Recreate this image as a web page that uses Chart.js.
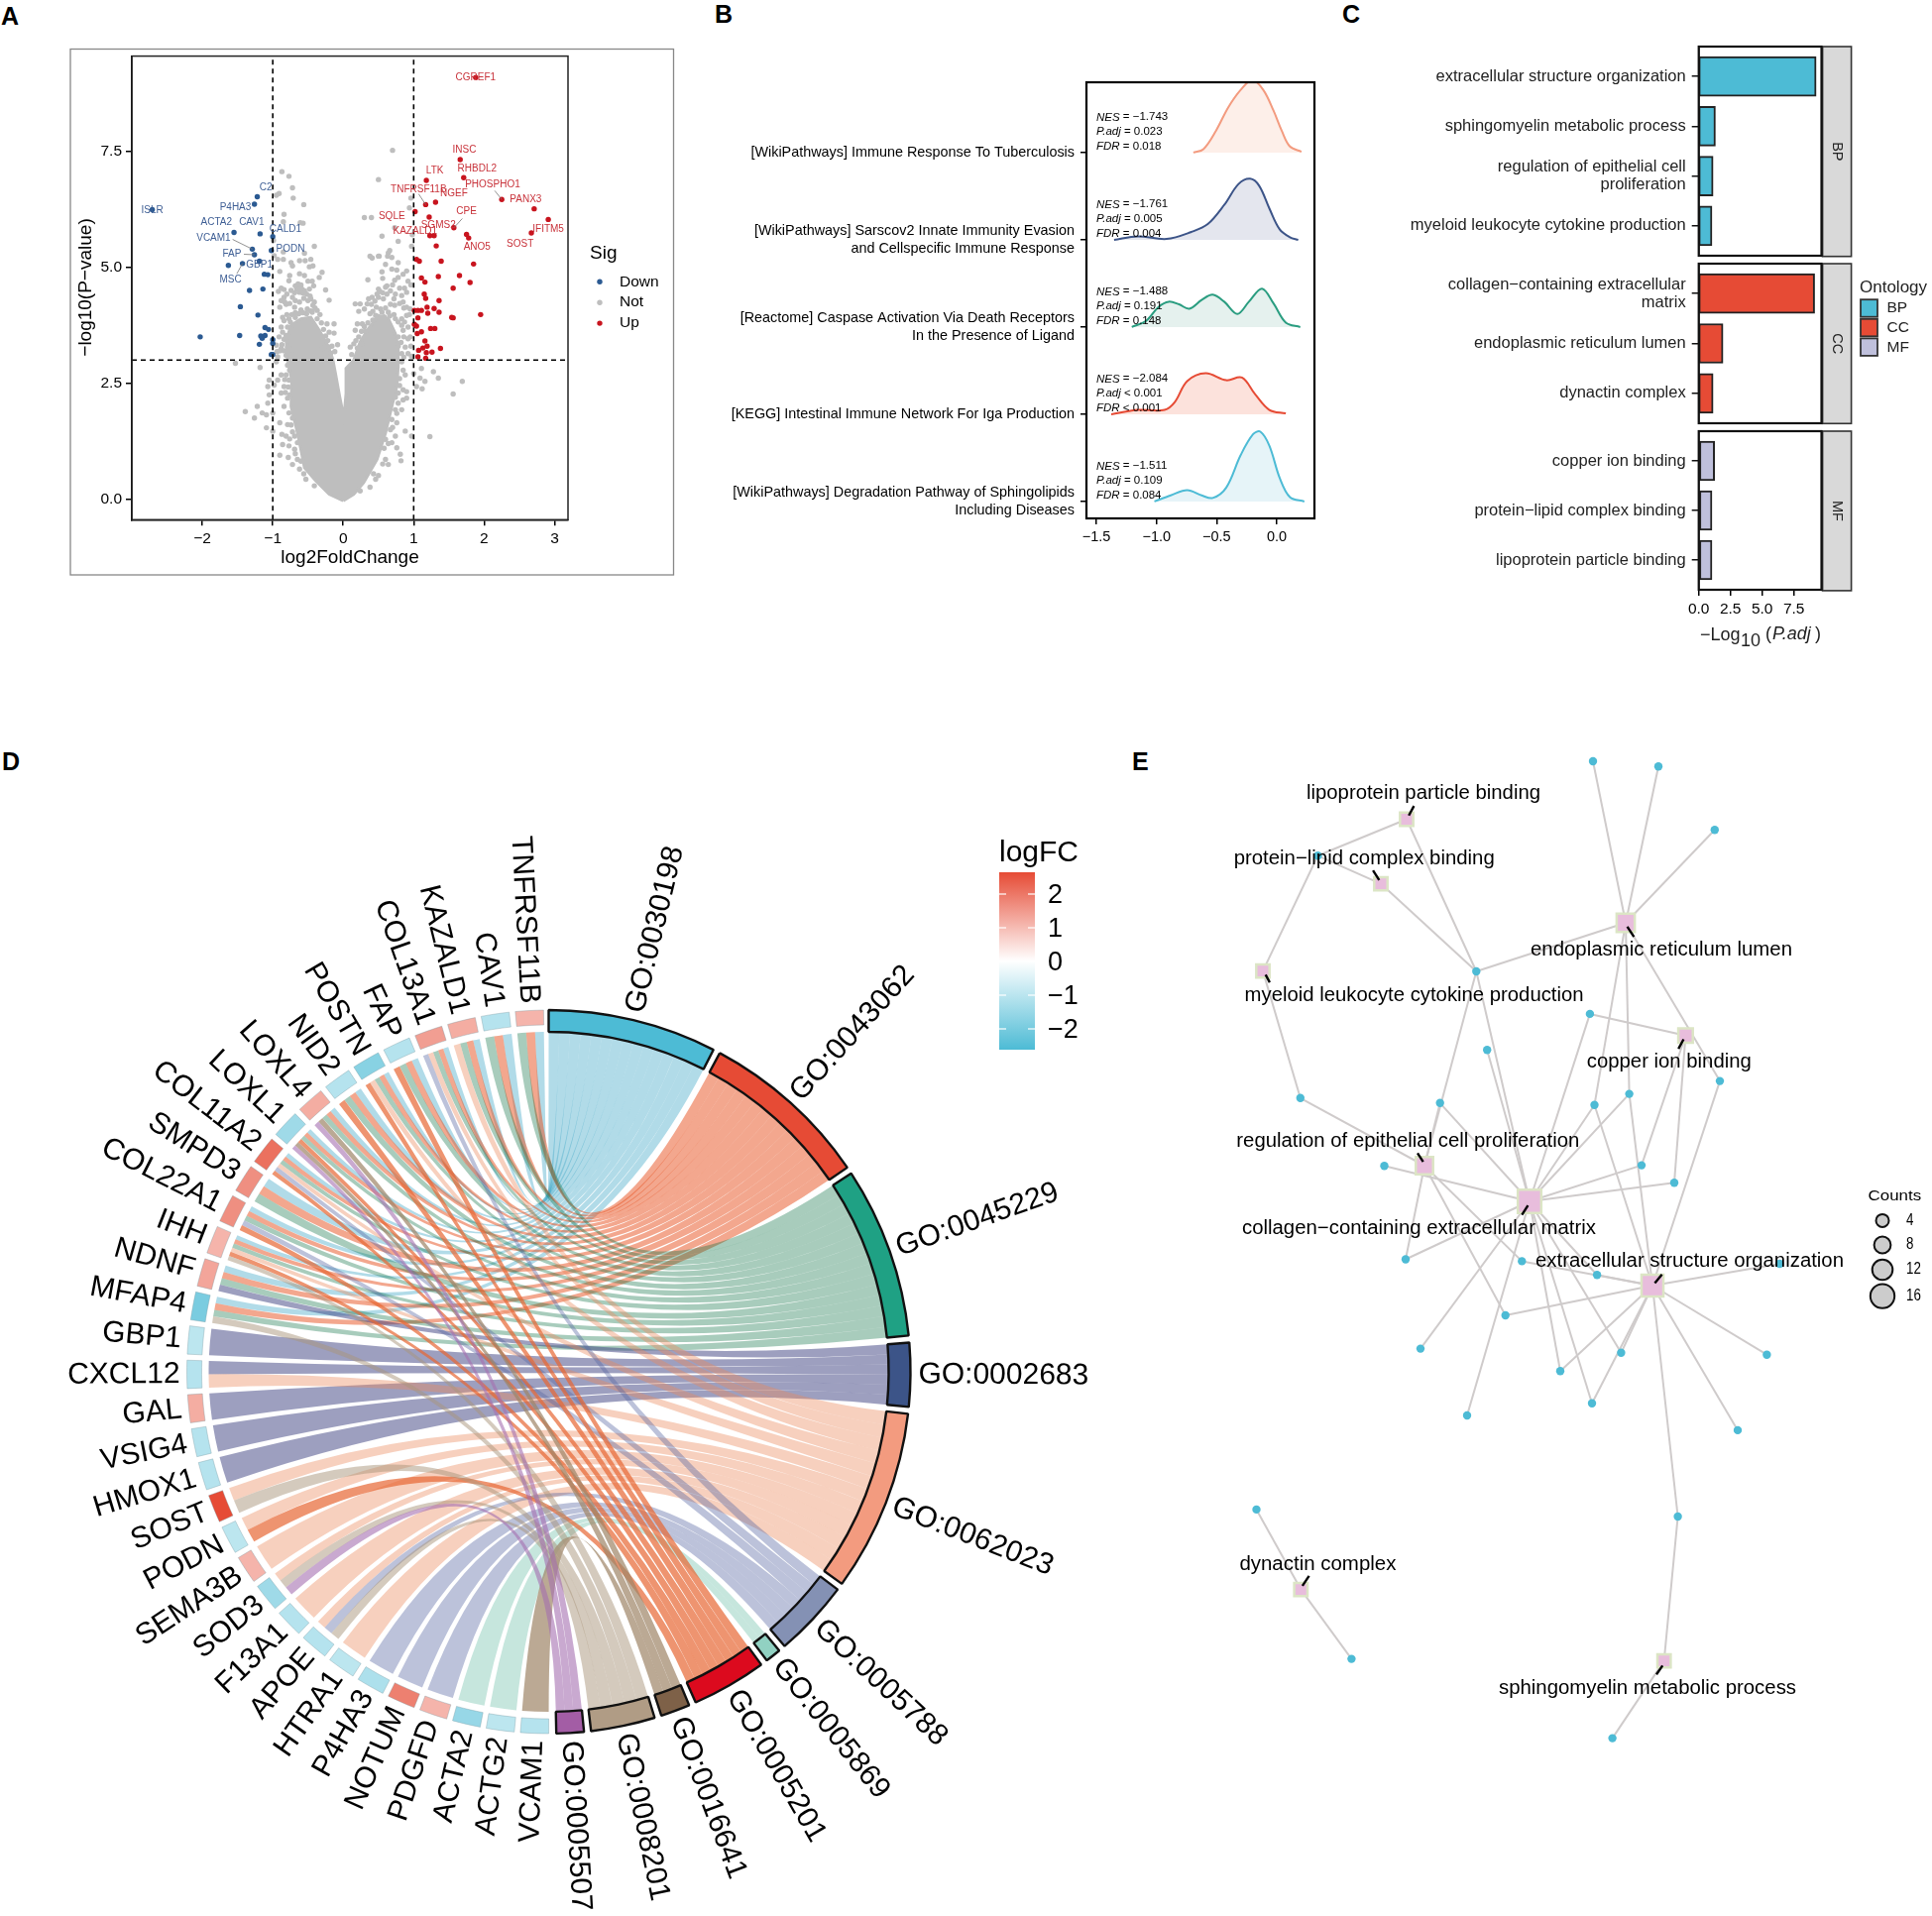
<!DOCTYPE html>
<html>
<head>
<meta charset="utf-8">
<title>Panels A-E</title>
<style>
html, body { margin: 0; background: #fff; overflow: hidden; }
body { width: 1949px; height: 1933px; position: relative; }
canvas { position: absolute; }
.tag { position: absolute; font: bold 25px "Liberation Sans"; line-height: 25px; color: #000; }
</style>
<script src="https://cdn.jsdelivr.net/npm/chart.js@4"></script>
</head>
<body>
<div class="tag" style="left:1px;top:4px">A</div>
<div class="tag" style="left:721px;top:2px">B</div>
<div class="tag" style="left:1354px;top:2px">C</div>
<div class="tag" style="left:2px;top:756px">D</div>
<div class="tag" style="left:1142px;top:756px">E</div>
<script>
// ---------- A: volcano ----------
const volcanoDown = [[-2.71,6.24],[-1.22,6.52],[-1.26,6.36],[-1.55,5.75],[-1.18,5.72],[-1,5.66],[-1.02,5.36],[-1.29,5.39],[-1.26,5.27],[-1.19,5.13],[-1.43,5.08],[-1.63,5.04],[-1.12,4.85],[-1.07,4.84],[-1.33,4.5],[-1.14,4.53],[-1.46,4.15],[-1.21,3.97],[-1.11,3.7],[-1.06,3.66],[-2.03,3.5],[-1.47,3.53],[-1.17,3.52],[-1.11,3.53],[-1.15,3.47],[-1.19,3.34],[-1,3.44],[-1,3.36],[-1.02,3.12],[-1,3.12]];
const volcanoUp = [[1.88,9.09],[1.66,7.32],[1.71,6.93],[1.18,6.87],[2.25,6.46],[1.17,6.35],[1.31,6.4],[1.02,6.2],[2.71,6.26],[1.22,6.08],[2.91,6.03],[1.57,5.85],[2.67,5.74],[1.75,5.71],[1.78,5.63],[1.23,5.68],[1.29,5.68],[1.32,5.46],[1.04,5.17],[1.08,5.13],[1.39,5.13],[1.85,5.07],[1.65,4.82],[1.11,4.77],[1.35,4.8],[1.16,4.68],[1.8,4.67],[1.56,4.55],[1.15,4.42],[1.17,4.33],[1.36,4.28],[1.19,4.14],[1.01,4.07],[1.06,4.07],[1.11,4.07],[1.29,4.11],[1.36,4.03],[1.2,4.01],[1.95,3.98],[1.54,3.92],[1.56,3.91],[1.06,3.91],[1.01,3.77],[1.04,3.73],[1.24,3.68],[1.3,3.68],[1.11,3.61],[1.05,3.57],[1.16,3.41],[1.19,3.3],[1.13,3.26],[1.07,3.21],[1.38,3.25],[1.18,3.16],[1.26,3.17],[1.06,3.07],[1.17,3.04]];
const volcanoNot = [[-.87,7.06],[-.77,6.96],[-.72,6.71],[-.91,6.59],[-.95,6.55],[-.71,6.49],[-.56,6.35],[-.84,6.14],[-.85,5.98],[-.61,5.96],[-.57,5.95],[-.99,5.58],[-.41,5.45],[-.85,5.33],[-.98,5.25],[-.55,5.3],
[-.93,5.17],[-.85,5.17],[-.74,5.1],[-.62,5.14],[-.54,5.14],[-.46,5.17],[-.48,5.01],[-.43,5.03],[-.72,5.03],[-.9,4.91],[-.3,4.89],[-.34,4.78],[-.77,4.71],[-.65,4.6],[-.6,4.57],[-.55,4.49],[-.62,4.46],[-.66,4.53],[-.88,4.55],[-.48,4.53],[-.25,4.51],[-.84,4.35],[-.72,4.35],[-.46,4.32],[-.41,4.25],[-.2,4.29],[-.9,4.14],[-.81,4.2],[-.69,4.14],[-.6,4.08],[-.51,4.1],[-.44,4.03],[-.37,4.07],[-.86,3.92],[-.77,3.89],[-.37,3.89],[-.23,3.78],[-.13,3.78],[-.88,3.71],[-.79,3.71],[-.72,3.64],[-.2,3.6],[-.13,3.58],[-.91,3.5],[-.81,3.53],[-.3,3.5],[-.95,3.32],[-.88,3.25],[-.79,3.28],[-.08,3.33],[-.2,3.28],[-.81,3.1],[-.93,3.07],[-.77,3.5],[-.74,3.35],[-.3,3.25],
[-.68,4.6],[-.64,4.64],[-.6,4.62],[-.58,4.52],[-.63,4.52],[-.57,4.44],[-.52,4.42],[-.47,4.38],[-.5,4.28],[-.43,4.18],[-.4,4.12],[-.46,4.06],[-.52,4],[-.57,4.02],[-.63,4],[-.68,4.02],[-.73,3.98],[-.8,3.98],[-.84,3.85],[-.75,3.82],[-.68,3.92],[-.33,3.98],[-.31,3.8],[-.28,3.66],[-.25,3.52],[-.22,3.42],[-.86,3.6],[-.84,3.45],[-.87,3.33],[-.84,3.2],[-.78,3.15],[-.72,3.22],[-.9,3.2],[-.94,3.18],[-.16,3.3],[-.12,3.18],[-.18,3.15],[-.88,4.28],[-.83,4.25],[-.76,4.22],[-.68,4.28],[-.62,4.25],[-.56,4.33],[-.92,4.48],[-.84,4.52],[-.8,4.42],[-.74,4.5],[-.69,4.45],[-.76,4.82],[-.62,4.86],[-.55,4.82],[-.5,4.7],[-.44,4.7],[-.42,4.6],
[-.95,2.96],[-.79,2.89],[-.88,2.68],[-.93,2.57],[-.81,2.68],[-.98,2.46],[-.84,2.43],[-.77,2.57],[-.88,2.29],[-.79,2.18],[-.84,2],[-.77,1.86],[-1.07,2.07],[-1,1.86],[-1.09,1.82],[-1.15,1.86],[-1.39,1.89],[-1.22,2],[-1.26,1.75],[-1.09,1.54],[-1,1.47],[-.9,1.65],[-.79,1.61],[-.87,1.4],[-.81,1.36],[-.69,1.36],[-.86,1.18],[-.77,1.15],[-.69,1.08],[-.9,.95],[-.78,.9],[-.65,.86],[-.72,.75],[-.62,.65],[-.53,.43],[-.41,.29],[-1.05,2.57],[-1.07,2.43],[-1.05,2.25],[-1.53,2.93],[-1.18,2.84],[-.76,2.78],[-.83,2.58],[-.78,2.42],[-.82,2.3],[-.76,2.25],[-.72,1.75],[-.74,1.6],[-.72,1.45],[-.76,1.3],[-.65,1.22],[-.68,.98],[-.6,.82],[-.56,.55],
[.7,7.52],[.5,6.89],[.94,6.28],[.96,6.49],[.3,6.07],[.4,6.07],[.73,5.85],[.55,5.67],[.78,5.56],[.98,5.7],[.97,5.45],[.66,5.36],[.63,5.24],[.41,5.2],[.5,5.24],
[.35,4.73],[.56,4.76],[.73,4.72],[.69,4.96],[.76,4.94],[.85,4.85],[.9,4.92],[.78,5.1],[.6,5.06],[.38,5.24],[.51,5.24],[.64,5.31],[.69,5.21],[.5,4.53],[.6,4.57],[.67,4.49],[.48,4.42],[.41,4.35],[.36,4.32],[.5,4.35],[.74,4.42],[.83,4.39],[.9,4.46],[.34,4.21],[.24,4.21],[.17,4.21],[.85,4.25],[.9,4.14],[.38,4],[.46,3.96],[.55,4.03],[.64,4.03],[.74,3.89],[.83,3.89],[.9,3.96],[.83,3.75],[.2,3.78],[.27,3.78],[.17,3.64],[.22,3.5],[.15,3.35],[.1,3.28],[.78,3.5],[.85,3.64],[.92,3.71],[.92,3.46],[.88,3.28],[.92,3.14],[.83,3.14],
[.52,4.48],[.56,4.45],[.62,4.42],[.57,4.32],[.45,4.27],[.4,4.2],[.47,4.14],[.53,4.1],[.6,4.12],[.67,4.2],[.73,4.18],[.8,4.22],[.86,4.12],[.95,4.1],[.94,3.98],[.87,3.82],[.78,3.82],[.72,3.98],[.66,3.95],[.58,3.93],[.42,3.86],[.35,3.8],[.3,3.72],[.26,3.62],[.32,3.62],[.86,3.5],[.82,3.38],[.95,3.5],[.96,3.3],[.78,3.3],[.86,3.06],[.97,3.08],[.18,3.42],[.2,3.26],[.12,3.12],[.26,3.35],[.42,4.05],[.3,4.1],[.22,4.05],[.72,4.32],[.62,4.6],[.7,4.62],[.8,4.55],[.87,4.55],[.78,4.78],[.55,4.9],[.92,4.7],[.96,4.62],
[.83,2.96],[.85,2.78],[.88,2.68],[1.11,2.82],[1.16,2.54],[1.09,2.61],[1.28,2.75],[1.35,2.61],[1.69,2.54],[1.56,2.27],[1,2.71],[1.04,2.43],[1.12,2.38],[.85,2.36],[.9,2.32],[.78,2.29],[.85,2.14],[.9,2.18],[.78,2.07],[.74,1.93],[.83,1.93],[.69,1.72],[.76,1.65],[.67,1.5],[.74,1.36],[.88,1.47],[.97,1.36],[1.23,1.35],[.6,1.29],[.69,1.22],[.76,1.11],[.6,.86],[.81,.97],[.82,.83],[.5,.51],[.46,.43],[.64,.75],[.38,.26],[.24,.18],[.8,2.6],[.8,2.45],[.74,2.2],[.76,1.85],[.7,1.55],[.64,1.2],[.58,1.1],[.56,.76],[.43,.55]];
// the solid grey V, too dense to read point by point, traced as an outline
const volcanoCore = [[0,-.03],[-.2,.11],[-.39,.4],[-.55,.68],[-.6,1.07],[-.66,1.5],[-.74,2],[-.73,2.57],[-.79,3],[-.81,3.43],[-.74,3.75],[-.6,3.89],[-.46,3.92],[-.34,3.64],[-.22,3.32],[-.15,3.03],[-.11,2.71],[-.05,2.21],[.01,1.75],[.04,2.28],[.04,2.82],[.15,3],[.24,3.39],[.36,3.68],[.5,3.96],[.64,3.89],[.74,3.57],[.78,3.28],[.78,2.85],[.76,2.43],[.69,2],[.6,1.43],[.48,.86],[.29,.36],[.15,.11],[0,-.03]];
const volcanoXTicks = [-2, -1, 0, 1, 2, 3];
const volcanoYTicks = [0, 2.5, 5, 7.5];
const fcCutoffs = [-1, 1];
const pCutoff = 3;
const upLabels = [["CGREF1",1.88,9.09],["INSC",1.72,7.52],["RHBDL2",1.9,7.12],["LTK",1.3,7.07],["PHOSPHO1",2.12,6.79],["TNFRSF11B",1.07,6.67],["NGEF",1.57,6.59],["PANX3",2.59,6.45],["CPE",1.75,6.2],["SQLE",.69,6.1],["SGMS2",1.35,5.9],["IFITM5",2.91,5.83],["KAZALD1",1.02,5.77],["SOST",2.51,5.5],["ANO5",1.9,5.43]];
const downLabels = [["ISLR",-2.71,6.23],["C2",-1.1,6.71],["P4HA3",-1.53,6.3],["ACTA2",-1.8,5.96],["CAV1",-1.3,5.96],["CALD1",-.82,5.81],["VCAM1",-1.84,5.63],["PODN",-.75,5.4],["FAP",-1.58,5.28],["GBP1",-1.19,5.05],["MSC",-1.6,4.73]];
const labelLeaders = [[-1.57,5.6,-1.29,5.39],[-1.41,5.28,-1.26,5.27],[-1.51,4.86,-1.43,5.08],[1.07,6.58,1.17,6.35],[1.69,6.05,1.57,5.85],[2.15,6.65,2.25,6.46]];

// ---------- B: ridges ----------
const pathwayLabels = ["[WikiPathways] Immune Response To Tuberculosis",["[WikiPathways] Sarscov2 Innate Immunity Evasion","and Cellspecific Immune Response"],["[Reactome] Caspase Activation Via Death Receptors","In the Presence of Ligand"],"[KEGG] Intestinal Immune Network For Iga Production",["[WikiPathways] Degradation Pathway of Sphingolipids","Including Diseases"]];
const ridge1X = [-.694,-.61,-.506,-.403,-.3,-.205,-.113,-.027,.041,.109,.205];
const ridge1H = [0,.04,.25,.52,.72,.83,.72,.48,.25,.07,.01];
const ridge2X = [-1.353,-1.155,-.916,-.71,-.574,-.437,-.318,-.222,-.147,-.062,.024,.109,.178];
const ridge2H = [0,.04,.01,.09,.18,.4,.64,.7,.62,.36,.12,.03,0];
const ridge3X = [-1.206,-1.087,-.984,-.899,-.813,-.728,-.625,-.533,-.437,-.328,-.232,-.123,-.027,.075,.195];
const ridge3H = [0,.07,.23,.29,.26,.21,.31,.37,.29,.15,.29,.44,.27,.05,0];
const ridge4X = [-1.377,-1.155,-.933,-.848,-.745,-.591,-.42,-.29,-.181,-.062,.075];
const ridge4H = [0,.05,.05,.14,.38,.47,.39,.42,.23,.05,.01];
const ridge5X = [-1.018,-.882,-.745,-.625,-.533,-.42,-.301,-.198,-.137,-.062,.024,.109,.229];
const ridge5H = [0,.07,.13,.07,.04,.16,.53,.77,.8,.64,.27,.05,0];
const statNes = ["= −1.743","= −1.761","= −1.488","= −2.084","= −1.511"];
const statPadj = ["= 0.023","= 0.005","= 0.191","< 0.001","= 0.109"];
const statFdr = ["= 0.018","= 0.004","= 0.148","< 0.001","= 0.084"];
const nesTicks = [-1.5, -1, -.5, 0];

// ---------- C: enrichment bars ----------
const bpTerms = ["extracellular structure organization","sphingomyelin metabolic process",["regulation of epithelial cell","proliferation"],"myeloid leukocyte cytokine production"];
const bpValues = [9.25, 1.31, 1.13, 1.04];
const ccTerms = [["collagen−containing extracellular","matrix"],"endoplasmic reticulum lumen","dynactin complex"];
const ccValues = [9.13, 1.91, 1.13];
const mfTerms = ["copper ion binding","protein−lipid complex binding","lipoprotein particle binding"];
const mfValues = [1.25, 1.04, 1.04];
const padjTicks = [0, 2.5, 5, 7.5];

// ---------- D: chord ----------
const goIds = ["GO:0030198","GO:0043062","GO:0045229","GO:0002683","GO:0062023","GO:0005788","GO:0005869","GO:0005201","GO:0016641","GO:0008201","GO:0005507"];
const goSizes = [27.1,27.4,27.5,10.2,29.2,12.3,2.5,12,4.7,10.3,4.4];
const genes = ["TNFRSF11B","CAV1","KAZALD1","COL13A1","FAP","POSTN","NID2","LOXL4","LOXL1","COL11A2","SMPD3","COL22A1","IHH","NDNF","MFAP4","GBP1","CXCL12","GAL","VSIG4","HMOX1","SOST","PODN","SEMA3B","SOD3","F13A1","APOE","HTRA1","P4HA3","NOTUM","PDGFD","ACTA2","ACTG2","VCAM1"];
const geneLogFC = [1,-1,1.1,1.3,-1,-1.6,-1,1.1,-1.3,1.9,1.5,1.5,1,1.2,-1.8,-.9,-1,1.1,-1,-1,2.4,-.9,1,-1.3,-1,-1,-.9,-1.1,1.7,1,-1.4,-.9,-1];
const geneTerms = [[0,1,2],[0,1,2],[0,1,2,4],[0,1,2,4,5],[0,1,2,7],[0,1,2,4,7],[0,1,2,7],[0,1,2,8,10],[0,1,2,7,8,10],[0,1,2,4,5,7],[0,1,2],[0,1,2,5,7],[0,1,2,4,7,9],[0,1,2,3],[0,1,2,9],[3],[3,4],[3],[3],[3],[4,9],[4,7],[4],[4,9,10],[4],[4,5,9],[4],[5],[5],[5],[6],[6],[8]];
const logfcTicks = [2, 1, 0, -1, -2];

// ---------- E: network ----------
const hubNames = ["lipoprotein particle binding","protein−lipid complex binding","myeloid leukocyte cytokine production","endoplasmic reticulum lumen","copper ion binding","regulation of epithelial cell proliferation","collagen−containing extracellular matrix","extracellular structure organization","dynactin complex","sphingomyelin metabolic process"];
const hubX = [1419,1393,1274,1640,1700.4,1437,1543,1667,1312.3,1678.7];
const hubY = [826.5,891.6,979.6,931,1044.7,1176,1212,1297,1603.6,1675.6];
const hubCounts = [2,2,2,7,3,6,16,13,2,2];
const nodeX = [1607,1673,1729.8,1329.4,1489.3,1603.9,1500.2,1735,1311.8,1452.7,1608.5,1643.6,1656,1689,1396.5,1418,1535.3,1611.1,1795.3,1518.7,1433,1574,1635.4,1606,1480,1782.4,1753,1692.6,1626.6,1267.5,1363.4];
const nodeY = [768,773.3,837.3,863.3,980,1022.9,1059.2,1090.6,1107.8,1112.8,1114.7,1103.6,1175.6,1193.2,1176.3,1270.5,1272.4,1286.2,1275,1327,1360.6,1383.2,1364.8,1415.7,1428,1366.7,1442.9,1530,1753.6,1522.9,1673.6];
// node numbers (1-based) linked to each hub
const hubLinks = [[4,5],[4,5],[4,9],[1,2,3,5,8,11,12],[6,13,14],[9,10,5,16,17,20],[5,6,7,10,11,12,13,14,15,16,18,21,22,23,24,25],[8,11,12,17,18,19,20,22,23,24,26,27,28],[30,31],[28,29]];
const countLevels = [4, 8, 12, 16];

// ---------- shared helpers ----------
const FONT = '"Liberation Sans"';
Chart.defaults.animation = false;
Chart.defaults.responsive = false;
Chart.defaults.devicePixelRatio = 1;
Chart.defaults.font.family = FONT;
Chart.defaults.color = "#000";
Chart.defaults.layout.autoPadding = false;
Chart.defaults.plugins.legend.display = false;
Chart.defaults.plugins.tooltip.enabled = false;

function place(left, top, w, h) {
  const c = document.createElement("canvas");
  c.width = w; c.height = h;
  c.style.left = left + "px"; c.style.top = top + "px";
  document.body.appendChild(c);
  return c;
}
function put(ctx, s, x, y, o = {}) {
  ctx.save();
  ctx.translate(x, y);
  if (o.rot) ctx.rotate(o.rot * Math.PI / 180);
  ctx.font = `${o.style || ""} ${o.size || 15}px ${FONT}`;
  ctx.textAlign = o.align || "left";
  ctx.textBaseline = o.base || "middle";
  ctx.fillStyle = o.color || "#000";
  if (o.width) ctx.scale(o.width / ctx.measureText(s).width, 1);
  ctx.fillText(s, 0, 0);
  ctx.restore();
}
function pagePlugin(id, left, top, draw) {
  return { id, afterDraw(chart) {
    const ctx = chart.ctx;
    ctx.save(); ctx.translate(-left, -top);
    draw(ctx, chart, left, top);
    ctx.restore();
  } };
}
const minus = v => v < 0 ? "−" + Math.abs(v) : String(v);
function axis(min, max, ticks, fmt, size, fit, extra = {}) {
  return Object.assign({
    type: "linear", min, max,
    afterBuildTicks(s) { s.ticks = ticks.map(v => ({ value: v })); },
    afterFit(s) {
      if (s.isHorizontal()) s.height = fit; else s.width = fit;
      s.paddingTop = s.paddingBottom = s.paddingLeft = s.paddingRight = 0;
    },
    ticks: { callback: fmt, font: { size }, color: "#000", autoSkip: false, maxRotation: 0, padding: 4 },
    grid: { drawOnChartArea: false, tickLength: 6, color: "#000", lineWidth: 1.5 },
    border: { color: "#000", width: 1.5 },
  }, extra);
}
const pts = arr => arr.map(p => ({ x: p[0], y: p[1] }));

// ---------- A ----------
const dash = { showLine: true, borderColor: "#000", borderWidth: 1.6, borderDash: [5, 4], pointRadius: 0, order: 0 };
new Chart(place(60, 40, 640, 560), {
  type: "scatter",
  data: { datasets: [
    { ...dash, data: [{ x: fcCutoffs[0], y: -.44 }, { x: fcCutoffs[0], y: 9.55 }] },
    { ...dash, data: [{ x: fcCutoffs[1], y: -.44 }, { x: fcCutoffs[1], y: 9.55 }] },
    { ...dash, data: [{ x: -3, y: pCutoff }, { x: 3.19, y: pCutoff }] },
    { data: pts(volcanoDown), backgroundColor: "#2B5A92", pointRadius: 2.7, pointBorderWidth: 0, order: 1 },
    { data: pts(volcanoUp), backgroundColor: "#C8141E", pointRadius: 2.7, pointBorderWidth: 0, order: 1 },
    { data: pts(volcanoNot), backgroundColor: "#BEBEBE", pointRadius: 2.7, pointBorderWidth: 0, order: 2 },
    { data: pts(volcanoCore), showLine: true, fill: "shape", backgroundColor: "#BEBEBE", borderColor: "#BEBEBE", borderWidth: 3, pointRadius: 0, order: 3 },
  ] },
  options: {
    layout: { padding: { left: 0, top: 16.6, right: 127, bottom: 0 } },
    scales: {
      x: axis(-3, 3.19, volcanoXTicks, minus, 15.5, 75.7),
      y: axis(-.44, 9.55, volcanoYTicks, v => v.toFixed(1), 15.5, 73),
    },
  },
  plugins: [pagePlugin("volcanoNotes", 60, 40, (ctx, chart) => {
    const { x, y } = chart.scales;
    const a = chart.chartArea;
    ctx.strokeStyle = "#888"; ctx.lineWidth = 1.3;
    ctx.strokeRect(71, 49.5, 608.5, 530.5);
    ctx.strokeStyle = "#222"; ctx.lineWidth = 1.5;
    ctx.strokeRect(a.left + 60, a.top + 40, a.width, a.height);
    ctx.strokeStyle = "#777"; ctx.lineWidth = .8;
    labelLeaders.forEach(l => {
      ctx.beginPath();
      ctx.moveTo(x.getPixelForValue(l[0]) + 60, y.getPixelForValue(l[1]) + 40);
      ctx.lineTo(x.getPixelForValue(l[2]) + 60, y.getPixelForValue(l[3]) + 40);
      ctx.stroke();
    });
    const note = (l, color) => put(ctx, l[0], x.getPixelForValue(l[1]) + 60, y.getPixelForValue(l[2]) + 40, { size: 10, align: "center", color });
    upLabels.forEach(l => note(l, "#C8323A"));
    downLabels.forEach(l => note(l, "#3F5F95"));
    put(ctx, "log2FoldChange", 353, 562.5, { size: 19, align: "center" });
    put(ctx, "−log10(P−value)", 87, 290, { size: 19, align: "center", rot: -90 });
    put(ctx, "Sig", 595, 255.6, { size: 19 });
    [["Down", "#2B5A92"], ["Not", "#BEBEBE"], ["Up", "#C8141E"]].forEach((k, i) => {
      const ky = 284.3 + i * 20.9;
      ctx.fillStyle = k[1];
      ctx.beginPath(); ctx.arc(605, ky, 2.7, 0, 7); ctx.fill();
      put(ctx, k[0], 625, ky, { size: 15.5 });
    });
  })],
});

// ---------- B ----------
const ridgeColors = ["#F39B7F", "#3C5488", "#2A9D80", "#E64B35", "#4DBBD5"];
const ridgeFills = ["#FDEFE9", "#E4E6EE", "#E5F1EE", "#FCE2DC", "#E6F4F8"];
const ridges = [[ridge1X, ridge1H], [ridge2X, ridge2H], [ridge3X, ridge3H], [ridge4X, ridge4H], [ridge5X, ridge5H]];
new Chart(place(720, 70, 620, 480), {
  type: "scatter",
  data: { datasets: ridges.map((r, i) => {
    const base = 5 - i;
    return {
      data: r[0].map((v, j) => ({ x: v, y: base + r[1][j] })),
      showLine: true, tension: .35,
      fill: { value: base },
      borderColor: ridgeColors[i], backgroundColor: ridgeFills[i], borderWidth: 2, pointRadius: 0,
    };
  }) },
  options: {
    layout: { padding: { top: 13, right: 14 } },
    scales: {
      x: axis(-1.583, .313, nesTicks, v => v === 0 ? "0.0" : "−" + Math.abs(v).toFixed(1), 14.5, 27),
      y: axis(.806, 5.806, [1, 2, 3, 4, 5], v => pathwayLabels[5 - v], 14.4, 376, {
        ticks: { callback: v => pathwayLabels[5 - v], font: { size: 14.4 }, color: "#000", autoSkip: false, padding: 6 },
      }),
    },
  },
  plugins: [pagePlugin("ridgeNotes", 720, 70, (ctx, chart) => {
    const a = chart.chartArea;
    ctx.strokeStyle = "#000"; ctx.lineWidth = 2.2;
    ctx.strokeRect(a.left + 720, a.top + 70, a.width, a.height);
    const y = chart.scales.y;
    const stat = (name, val, px, py) => {
      ctx.font = `italic 11.5px ${FONT}`;
      const w = ctx.measureText(name + " ").width;
      put(ctx, name, px, py, { size: 11.5, style: "italic" });
      put(ctx, val, px + w, py, { size: 11.5 });
    };
    statNes.forEach((s, i) => {
      const base = y.getPixelForValue(5 - i) + 70;
      stat("NES", s, 1106, base - 35.6);
      stat("P.adj", statPadj[i], 1106, base - 20.8);
      stat("FDR", statFdr[i], 1106, base - 6.5);
    });
  })],
});

// ---------- C ----------
function facet(terms, values, color, strip, boxTop, boxBottom, showX, notes) {
  const top = boxTop - 4;
  const h = boxBottom - boxTop + 4 + (showX ? 60 : 4);
  const yfmt = v => terms[v - 1];
  const plugin = pagePlugin("facetNotes" + strip, 1350, top, (ctx, chart) => {
    const a = chart.chartArea;
    ctx.fillStyle = "#D9D9D9";
    ctx.fillRect(1838.6, boxTop, 29, boxBottom - boxTop);
    ctx.strokeStyle = "#333"; ctx.lineWidth = 1.6;
    ctx.strokeRect(1838.6, boxTop, 29, boxBottom - boxTop);
    ctx.strokeStyle = "#111"; ctx.lineWidth = 2.2;
    ctx.strokeRect(a.left + 1350, a.top + top, a.width, a.height);
    put(ctx, strip, 1853, (boxTop + boxBottom) / 2, { size: 14.5, rot: 90, align: "center", color: "#222" });
    if (notes) notes(ctx);
  });
  new Chart(place(1350, top, 599, h), {
    type: "bar",
    data: { datasets: [{
      data: values.map((v, i) => ({ x: v, y: i + 1 })),
      backgroundColor: color, borderColor: "#222", borderWidth: 2, borderSkipped: false, barThickness: 40,
    }] },
    options: {
      indexAxis: "y",
      layout: { padding: { top: 4, right: 111.5, bottom: showX ? 0 : 4 } },
      scales: {
        x: axis(0, 9.67, padjTicks, v => v.toFixed(1), 15.5, showX ? 60 : 0, { display: showX }),
        y: axis(.4, terms.length + .6, terms.map((t, i) => i + 1), yfmt, 16.5, 363.7, {
          reverse: true, offset: false,
          ticks: { callback: yfmt, font: { size: 16.5, lineHeight: 1.08 }, color: "#222", autoSkip: false, padding: 6 },
          grid: { drawOnChartArea: false, offset: false, tickLength: 7, color: "#111", lineWidth: 1.5 },
        }),
      },
    },
    plugins: [plugin],
  });
}
const ontologyKeys = [["BP", "#4DBBD5"], ["CC", "#E64B35"], ["MF", "#BFC0DC"]];
facet(bpTerms, bpValues, "#4DBBD5", "BP", 46.8, 258.5, false);
facet(ccTerms, ccValues, "#E64B35", "CC", 266.3, 427.6, false, ctx => {
  put(ctx, "Ontology", 1876, 291, { size: 17, color: "#222" });
  ontologyKeys.forEach((k, i) => {
    const ky = 302.5 + i * 19.6;
    ctx.fillStyle = k[1]; ctx.fillRect(1877, ky, 17, 17.5);
    ctx.strokeStyle = "#333"; ctx.lineWidth = 1.8; ctx.strokeRect(1877, ky, 17, 17.5);
    put(ctx, k[0], 1903.5, ky + 9, { size: 15.5, color: "#222" });
  });
});
facet(mfTerms, mfValues, "#BFC0DC", "MF", 435.4, 596.3, true, ctx => {
  put(ctx, "−Log", 1715, 641, { size: 18, color: "#222" });
  put(ctx, "10", 1756, 647, { size: 18, color: "#222" });
  put(ctx, "(", 1781, 640, { size: 18, color: "#222" });
  put(ctx, "P.adj", 1788, 640, { size: 18, style: "italic", color: "#222" });
  put(ctx, ")", 1831, 640, { size: 18, color: "#222" });
});

// ---------- D ----------
const R_OUT = 365, R_RIBBON = 343, R_GENE = 350;
const GENE_SIZE = 4.5, GENE_GAP = .96, GO_GAP = 1.12;
const goColors = ["#4DBBD5", "#E64B35", "#1FA184", "#3C5488", "#F39B7F", "#8491B4", "#91D1C2", "#DC0A1E", "#7E6148", "#B09C85", "#A35DA5"];
const ribbonColors = ["rgba(70,170,200,.42)", "rgba(232,80,30,.5)", "rgba(6,109,64,.35)", "rgba(59,63,127,.5)", "rgba(235,137,92,.4)", "rgba(87,102,162,.4)", "rgba(112,192,170,.4)", "rgba(231,102,51,.7)", "rgba(158,132,102,.7)", "rgba(169,149,123,.5)", "rgba(165,112,177,.6)"];
function fcColor(v) {
  const t = Math.min(Math.abs(v) / 2.4, 1);
  const c = v > 0 ? [230, 75, 53] : [77, 187, 213];
  const m = c.map(k => Math.round(255 + (k - 255) * t));
  return `rgb(${m[0]},${m[1]},${m[2]})`;
}
const ringSizes = [], ringFill = [], ringBorder = [], ringWidth = [], ringGoIdx = {}, ringGeneIdx = {};
function pushRing(size, fill, border, width) {
  ringSizes.push(size); ringFill.push(fill); ringBorder.push(border); ringWidth.push(width);
}
goSizes.forEach((s, i) => {
  ringGoIdx[i] = ringSizes.length;
  pushRing(s, goColors[i], "#111", 2.4);
  pushRing(i < goSizes.length - 1 ? GO_GAP : 1.2, "rgba(0,0,0,0)", "rgba(0,0,0,0)", 0);
});
for (let g = genes.length - 1; g >= 0; g--) {
  ringGeneIdx[g] = ringSizes.length;
  pushRing(GENE_SIZE, fcColor(geneLogFC[g]), "rgba(120,150,160,.6)", .6);
  pushRing(g > 0 ? GENE_GAP : .8, "rgba(0,0,0,0)", "rgba(0,0,0,0)", 0);
}
const chordLeft = 0, chordTop = 800;
const chordPlugin = {
  id: "chordRibbons",
  afterDatasetsUpdate(chart) {
    const arcs = chart.getDatasetMeta(0).data;
    genes.forEach((g, i) => { arcs[ringGeneIdx[i]].innerRadius = R_GENE; });
  },
  beforeDatasetsDraw(chart) {
    const ctx = chart.ctx;
    const arcs = chart.getDatasetMeta(0).data;
    const cx = arcs[0].x, cy = arcs[0].y;
    const at = a => [cx + R_RIBBON * Math.cos(a), cy + R_RIBBON * Math.sin(a)];
    goIds.forEach((id, go) => {
      const arc = arcs[ringGoIdx[go]];
      const members = genes.map((g, i) => i).filter(i => geneTerms[i].includes(go));
      const span = (arc.endAngle - arc.startAngle) / members.length;
      members.forEach((g, j) => {
        const ga = arcs[ringGeneIdx[g]];
        const w = (ga.endAngle - ga.startAngle) / geneTerms[g].length;
        const k = geneTerms[g].indexOf(go);
        const b0 = ga.endAngle - k * w, b1 = b0 - w;
        const a0 = arc.startAngle + j * span, a1 = a0 + span;
        const pb0 = at(b0), pa0 = at(a0), pb1 = at(b1);
        ctx.beginPath();
        ctx.moveTo(pb0[0], pb0[1]);
        ctx.quadraticCurveTo(cx, cy, pa0[0], pa0[1]);
        ctx.arc(cx, cy, R_RIBBON, a0, a1);
        ctx.quadraticCurveTo(cx, cy, pb1[0], pb1[1]);
        ctx.arc(cx, cy, R_RIBBON, b1, b0);
        ctx.closePath();
        ctx.fillStyle = ribbonColors[go];
        ctx.fill();
      });
    });
  },
  afterDraw(chart) {
    const ctx = chart.ctx;
    const arcs = chart.getDatasetMeta(0).data;
    const cx = arcs[0].x, cy = arcs[0].y;
    const spot = (mid, r) => [cx + r * Math.cos(mid), cy + r * Math.sin(mid)];
    genes.forEach((g, i) => {
      const a = arcs[ringGeneIdx[i]];
      const mid = (a.startAngle + a.endAngle) / 2;
      const p = spot(mid, 372);
      put(ctx, g, p[0], p[1], { size: 30, align: "right", rot: mid * 180 / Math.PI - 180 });
    });
    goIds.forEach((g, i) => {
      const a = arcs[ringGoIdx[i]];
      const mid = (a.startAngle + a.endAngle) / 2;
      const p = spot(mid, 373);
      put(ctx, g, p[0], p[1], { size: 30, rot: mid * 180 / Math.PI });
    });
    // logFC colour bar
    const ox = -chordLeft, oy = -chordTop;
    const grad = ctx.createLinearGradient(0, 880 + oy, 0, 1059 + oy);
    grad.addColorStop(0, "#E64B35"); grad.addColorStop(.5, "#FFFFFF"); grad.addColorStop(1, "#4DBBD5");
    ctx.fillStyle = grad;
    ctx.fillRect(1008 + ox, 880 + oy, 36, 179);
    put(ctx, "logFC", 1008 + ox, 861 + oy, { size: 30 });
    logfcTicks.forEach(v => {
      const ty = 970 + oy - v * 34;
      ctx.fillStyle = "#fff";
      ctx.fillRect(1008 + ox, ty - .6, 7, 1.2);
      ctx.fillRect(1037 + ox, ty - .6, 7, 1.2);
      put(ctx, minus(v), 1057 + ox, ty + 2, { size: 27 });
    });
  },
};
new Chart(place(chordLeft, chordTop, 1150, 1133), {
  type: "doughnut",
  data: { datasets: [{ data: ringSizes, backgroundColor: ringFill, borderColor: ringBorder, borderWidth: ringWidth, borderAlign: "center" }] },
  options: {
    layout: { padding: { top: 35, right: 43 } },
    radius: R_OUT,
    cutout: (R_RIBBON / R_OUT * 100) + "%",
  },
  plugins: [chordPlugin],
});

// ---------- E ----------
const hubLabelBox = [[1318,800.5,236],[1244.7,866.7,263],[1255.6,1004.5,342],[1544,958.6,264],[1600.8,1071.5,166],[1247.3,1151,346],[1253,1239,357],[1549,1272,311],[1250.4,1578,158],[1512,1703.5,300]];
const hubLeaders = [[1426.4,813.1,1421.2,822.7],[1385.1,878.2,1391.3,887.8],[1641.6,934.8,1648.3,945.2],[1276.7,983.4,1280.9,991.1],[1698.4,1048.5,1693.2,1058.1],[1430,1163.4,1435.7,1172.1],[1541.4,1216.1,1535.3,1225.7],[1676.6,1285.8,1669.4,1294.6],[1320.6,1589.8,1313.9,1599.8],[1677.2,1680.4,1671,1689.2]];
new Chart(place(1140, 740, 809, 1060), {
  type: "scatter",
  data: { datasets: [
    { data: hubX.map((v, i) => ({ x: v, y: hubY[i] })), pointStyle: "rect",
      pointRadius: hubCounts.map(c => 5.5 + Math.sqrt(c) * 2.8),
      backgroundColor: "#E8BDDC", borderColor: "#DCE5C5", borderWidth: 2.5 },
    { data: nodeX.map((v, i) => ({ x: v, y: nodeY[i] })), pointRadius: 4.2, pointBorderWidth: 0, backgroundColor: "#4DBBD5" },
  ] },
  options: {
    layout: { padding: 0 },
    scales: {
      x: { type: "linear", display: false, min: 1140, max: 1949 },
      y: { type: "linear", display: false, min: 740, max: 1800, reverse: true },
    },
  },
  plugins: [{
    id: "netEdges",
    beforeDatasetsDraw(chart) {
      const { x, y } = chart.scales;
      const ctx = chart.ctx;
      ctx.strokeStyle = "#CFCBCB"; ctx.lineWidth = 2;
      hubLinks.forEach((links, h) => links.forEach(n => {
        ctx.beginPath();
        ctx.moveTo(x.getPixelForValue(hubX[h]), y.getPixelForValue(hubY[h]));
        ctx.lineTo(x.getPixelForValue(nodeX[n - 1]), y.getPixelForValue(nodeY[n - 1]));
        ctx.stroke();
      }));
    },
  }, pagePlugin("netNotes", 1140, 740, ctx => {
    ctx.strokeStyle = "#000"; ctx.lineWidth = 2.4;
    hubLeaders.forEach(l => { ctx.beginPath(); ctx.moveTo(l[0], l[1]); ctx.lineTo(l[2], l[3]); ctx.stroke(); });
    hubNames.forEach((n, i) => put(ctx, n, hubLabelBox[i][0], hubLabelBox[i][1], { size: 20, width: hubLabelBox[i][2] }));
    put(ctx, "Counts", 1884.6, 1207, { size: 15, width: 53.5 });
    countLevels.forEach((c, i) => {
      const ly = [1231.4, 1256, 1281, 1307.6][i];
      ctx.beginPath(); ctx.arc(1899, ly, 6.5 + i * 1.9, 0, 7);
      ctx.fillStyle = "#CCCCCC"; ctx.fill();
      ctx.strokeStyle = "#111"; ctx.lineWidth = 2; ctx.stroke();
      put(ctx, String(c), 1923, ly, { size: 16, width: String(c).length * 7.4 });
    });
  })],
});
</script>
</body>
</html>
